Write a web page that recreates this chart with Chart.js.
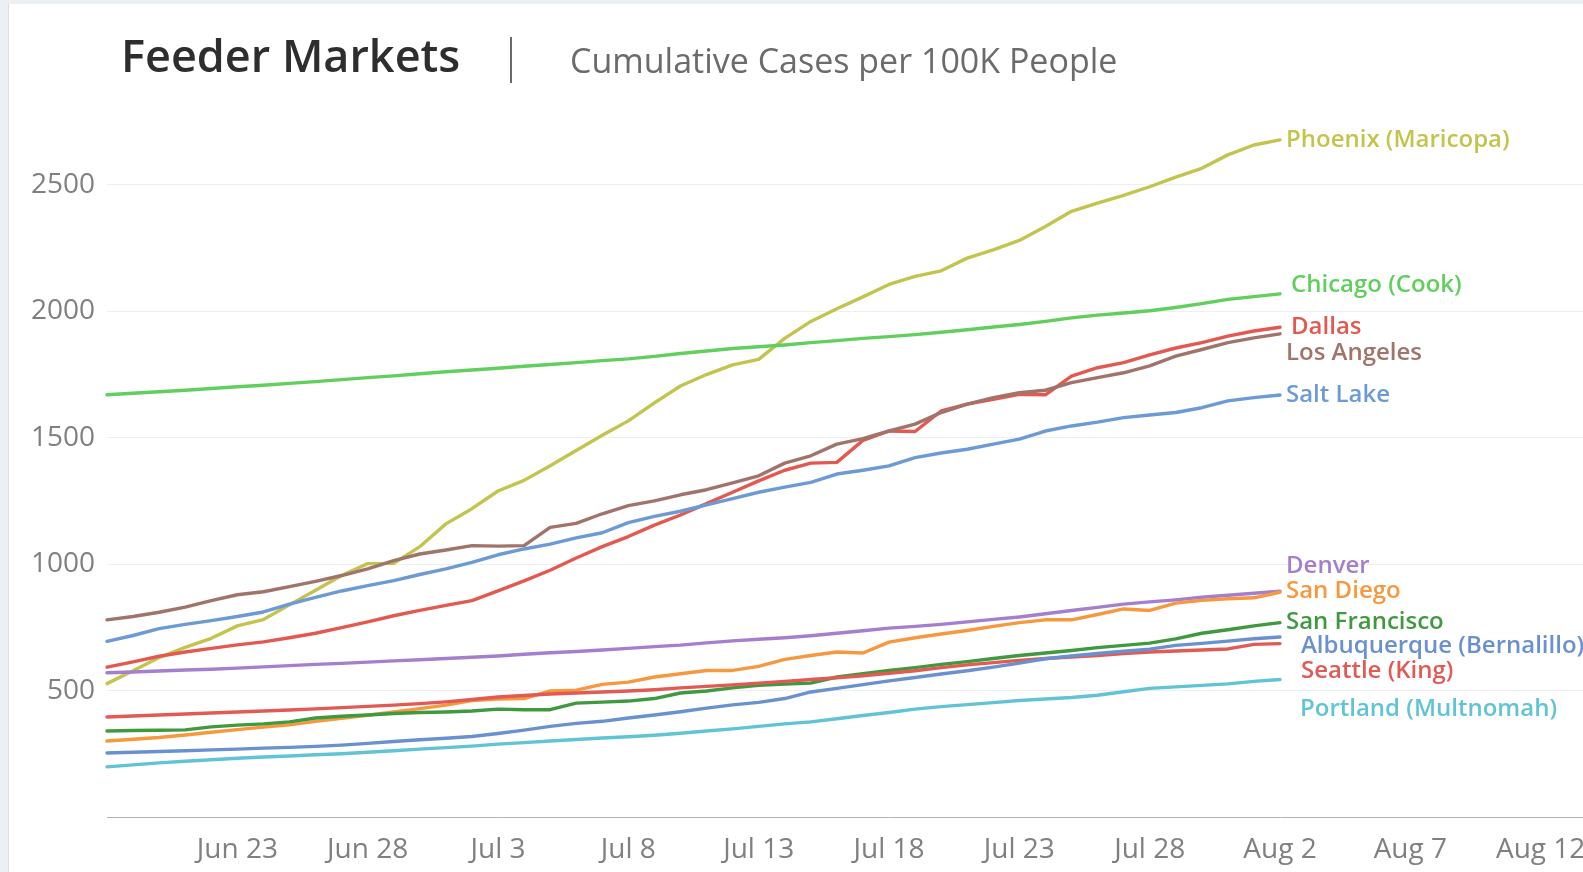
<!DOCTYPE html>
<html>
<head>
<meta charset="utf-8">
<script src="https://cdn.jsdelivr.net/npm/chart.js@4.4.1/dist/chart.umd.min.js"></script>
<style>
  html, body { margin: 0; padding: 0; width: 1583px; height: 872px; overflow: hidden; background: #eceff3; font-family: 'Open Sans', sans-serif; }
  #panel { position: absolute; left: 8px; top: 4px; width: 1700px; height: 900px; background: #ffffff; border-left: 1px solid #d8dbe0; }
  #title { position: absolute; left: 121px; top: 24px; font-size: 45px; font-weight: 600; color: #2e2e2e; white-space: nowrap; line-height: normal; z-index: 2; }
  #sep { position: absolute; left: 510px; top: 37px; width: 2px; height: 46px; background: #6a6a6a; z-index: 2; }
  #subtitle { position: absolute; left: 570px; top: 37px; font-size: 34px; font-weight: 400; color: #6b6b6b; white-space: nowrap; line-height: normal; z-index: 2; }
  #chart { position: absolute; left: 8px; top: 80px; z-index: 1; }
</style>
</head>
<body>
<div id="panel"></div>
<div id="title">Feeder Markets</div>
<div id="sep"></div>
<div id="subtitle">Cumulative Cases per 100K People</div>
<canvas id="chart" width="1679" height="792"></canvas>
<script>
// ---- categories (one per day) ----
const dates = ["Jun 18","Jun 19","Jun 20","Jun 21","Jun 22","Jun 23","Jun 24","Jun 25","Jun 26","Jun 27","Jun 28","Jun 29","Jun 30",
  "Jul 1","Jul 2","Jul 3","Jul 4","Jul 5","Jul 6","Jul 7","Jul 8","Jul 9","Jul 10","Jul 11","Jul 12","Jul 13","Jul 14","Jul 15","Jul 16",
  "Jul 17","Jul 18","Jul 19","Jul 20","Jul 21","Jul 22","Jul 23","Jul 24","Jul 25","Jul 26","Jul 27","Jul 28","Jul 29","Jul 30","Jul 31",
  "Aug 1","Aug 2"];

// ---- tick labels (every 5 days, starting Jun 23) ----
const tickLabels = ["Jun 23","Jun 28","Jul 3","Jul 8","Jul 13","Jul 18","Jul 23","Jul 28","Aug 2","Aug 7","Aug 12"];
const yTickValues = [500, 1000, 1500, 2000, 2500];

// ---- series: cumulative cases per 100K people ----
const phoenix = [529,580,632,672,708,757,782,840,898,956,1003,1004,1070,1160,1220,1290,1332,1390,1450,1510,1567,1638,1705,1750,1788,1810,1893,1960,2010,2057,2106,2138,2160,2210,2243,2280,2335,2395,2427,2458,2492,2530,2565,2618,2657,2677];
const chicago = [1670,1676,1682,1688,1695,1702,1708,1715,1722,1730,1738,1745,1753,1761,1768,1775,1783,1790,1797,1805,1812,1822,1833,1843,1853,1860,1867,1876,1884,1893,1900,1908,1917,1927,1938,1948,1960,1974,1985,1993,2002,2015,2030,2047,2058,2069];
const dallas = [594,615,637,654,668,682,694,710,728,750,773,797,818,838,857,895,935,977,1025,1070,1110,1155,1195,1240,1285,1330,1372,1400,1403,1490,1527,1525,1606,1633,1652,1672,1670,1744,1777,1797,1828,1855,1876,1902,1922,1937];
const losAngeles = [781,794,811,831,857,880,892,912,933,956,982,1015,1041,1057,1074,1072,1074,1146,1162,1200,1232,1251,1275,1295,1322,1350,1400,1429,1475,1497,1527,1554,1600,1633,1659,1678,1688,1718,1738,1757,1784,1823,1849,1876,1895,1911];
const saltLake = [696,719,746,763,778,794,812,843,870,895,916,936,960,982,1008,1038,1061,1080,1105,1125,1165,1190,1210,1235,1260,1285,1305,1324,1357,1372,1389,1422,1440,1455,1475,1495,1527,1547,1562,1580,1590,1600,1619,1646,1659,1669];
const denver = [572,575,579,583,586,590,595,600,605,609,614,619,623,628,633,638,645,651,656,662,668,675,681,690,698,704,710,718,728,738,748,755,763,773,783,792,805,818,830,843,852,860,870,878,886,894];
const sanDiego = [302,309,316,326,337,347,357,366,380,392,404,417,430,444,462,468,470,500,503,526,535,555,568,581,581,597,625,640,654,650,693,710,725,739,755,770,781,781,802,824,818,847,858,864,868,890];
const sanFrancisco = [342,344,345,346,358,365,370,378,393,400,405,411,415,417,421,428,426,426,452,456,460,470,492,500,512,522,527,531,555,568,581,592,605,616,628,640,650,660,671,680,689,706,728,742,757,770];
const albuquerque = [255,258,261,264,267,270,274,277,281,286,293,300,307,313,320,332,345,360,372,380,393,405,418,432,445,455,470,496,510,525,540,553,567,580,594,610,627,638,648,657,665,680,688,697,706,713];
const seattle = [397,401,405,409,413,417,421,425,429,434,439,444,450,457,466,476,482,488,492,496,500,505,512,518,524,531,538,545,552,560,570,580,592,603,612,621,628,634,640,648,654,658,662,666,684,687];
const portland = [200,208,216,222,228,234,239,243,248,252,258,264,270,276,282,290,296,302,308,314,319,325,333,342,350,360,370,378,390,403,415,428,438,446,454,462,468,474,483,497,510,516,522,528,538,545];

const seriesNames = ["Portland (Multnomah)","Albuquerque (Bernalillo)","Seattle (King)","San Francisco","San Diego","Denver","Salt Lake","Los Angeles","Dallas","Chicago (Cook)","Phoenix (Maricopa)"];
const seriesValues = [portland, albuquerque, seattle, sanFrancisco, sanDiego, denver, saltLake, losAngeles, dallas, chicago, phoenix];

// ---- styles (kept apart from the data) ----
const seriesColors = ["#60c4d4","#6a91cf","#e25a54","#3f9a3f","#f7983f","#a57fcd","#6b9ad5","#a0746a","#e4594f","#61cf5e","#c3c44e"];
const labelOffsets = [[20,30],[21,9],[21,28],[6,0],[6,-1],[6,-25],[6,0],[6,19],[11,0],[11,-9],[6,0]];

const endLabels = {
  id: 'endLabels',
  afterDatasetsDraw(chart) {
    const ctx = chart.ctx;
    ctx.save();
    ctx.font = "600 24px 'Open Sans', sans-serif";
    ctx.textBaseline = 'middle';
    ctx.textAlign = 'left';
    chart.data.datasets.forEach((ds, i) => {
      const meta = chart.getDatasetMeta(i);
      const pt = meta.data[meta.data.length - 1];
      const off = labelOffsets[i];
      ctx.fillStyle = seriesColors[i];
      ctx.fillText(ds.label, pt.x + off[0], pt.y + off[1]);
    });
    ctx.restore();
  }
};

Chart.defaults.font.family = "'Open Sans', sans-serif";

new Chart(document.getElementById('chart'), {
  type: 'line',
  data: {
    datasets: seriesNames.map((name, i) => ({
      label: name,
      data: seriesValues[i].map((v, d) => ({ x: d, y: v })),
      borderColor: seriesColors[i],
      backgroundColor: seriesColors[i],
      borderWidth: 3.4,
      pointRadius: 0,
      tension: 0,
      fill: false,
      borderJoinStyle: 'round',
      borderCapStyle: 'round',
      clip: false
    }))
  },
  options: {
    responsive: false,
    animation: false,
    events: [],
    layout: { padding: { top: 27, bottom: 0, left: 0, right: 0 } },
    plugins: { legend: { display: false }, tooltip: { enabled: false }, title: { display: false } },
    scales: {
      x: {
        type: 'linear',
        min: 0,
        max: 60,
        ticks: {
          stepSize: 5,
          autoSkip: false,
          maxRotation: 0,
          padding: 16,
          color: '#808080',
          font: { size: 28 },
          callback: (v) => (v > 0 && v % 5 === 0 && tickLabels[v / 5 - 1]) ? tickLabels[v / 5 - 1] : ''
        },
        grid: { display: false, drawTicks: false },
        border: { display: true, color: '#b4b4b4', width: 1 },
        afterFit: (scale) => { scale.height = 54.5; }
      },
      y: {
        type: 'linear',
        min: 0,
        max: 2800,
        afterBuildTicks: (scale) => { scale.ticks = [0].concat(yTickValues).map(v => ({ value: v })); },
        ticks: {
          padding: 12,
          color: '#808080',
          font: { size: 28 },
          callback: (v) => v === 0 ? '' : String(v)
        },
        grid: {
          drawTicks: false,
          color: (c) => (c.tick && c.tick.value === 0) ? 'rgba(0,0,0,0)' : '#efefef',
          lineWidth: 1
        },
        border: { display: false },
        afterFit: (scale) => { scale.width = 99; }
      }
    }
  },
  plugins: [endLabels]
});
</script>
</body>
</html>
